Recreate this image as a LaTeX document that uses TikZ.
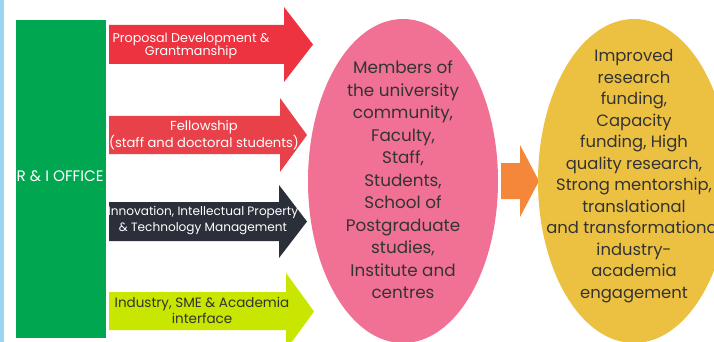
\documentclass[tikz,border=0pt]{standalone}
\usepackage{fontspec}
\setmainfont{Poppins}
\definecolor{cblue}{HTML}{9DD4F0}
\definecolor{cgreen}{HTML}{00A650}
\definecolor{cred}{HTML}{EE3340}
\definecolor{cred2}{HTML}{E8414A}
\definecolor{cdark}{HTML}{2B2F3A}
\definecolor{clime}{HTML}{C8E600}
\definecolor{cpink}{HTML}{F07193}
\definecolor{corange}{HTML}{F4873A}
\definecolor{cgold}{HTML}{ECC142}
\definecolor{ctext}{HTML}{333333}
\tikzset{
  arrowtext/.style={align=center, inner sep=0pt},
  elltext/.style={align=center, text=ctext, inner sep=0pt},
}
\newcommand{\fatarrow}[8]{% color, x0, xh, tip, shaft top, shaft bottom, head top, head bottom
  \fill[#1] (#2,#5) -- (#3,#5) -- (#3,#7) -- (#4,{(#7+#8)/2}) -- (#3,#8) -- (#3,#6) -- (#2,#6) -- cycle;}
\begin{document}
\begin{tikzpicture}[x=1pt,y=-1pt]
\useasboundingbox (0,0) rectangle (714,342);
\clip (0,0) rectangle (714,342);
\fill[white] (0,0) rectangle (714,342);
\fill[cblue] (0,0) rectangle (3.5,342);
\fill[cgreen] (16,20) rectangle (106,338);
\node[anchor=west, text=white, font=\fontsize{15.2}{17}\selectfont, inner sep=0pt] (office) at (16.5,176) {R \& I OFFICE};
% arrows
\fatarrow{cred}{109}{284}{313}{25}{64}{7}{82}
\fatarrow{cred2}{109}{280}{307}{116}{154}{98}{172}
\fatarrow{cdark}{109}{279}{307}{202}{241}{185}{258}
\fatarrow{clime}{109}{286}{314}{292}{330}{273}{350}
\node[arrowtext, text=white, font=\fontsize{12.7}{13.5}\selectfont] (a1) at (191,46) {Proposal Development \&\\Grantmanship};
\node[arrowtext, text=white, font=\fontsize{13.1}{17}\selectfont] (a2) at (204,135.5) {Fellowship\\(staff and doctoral students)};
\node[arrowtext, text=white, font=\fontsize{12.1}{16}\selectfont] (a3) at (203,221) {Innovation, Intellectual Property\\\& Technology Management};
\node[arrowtext, text=ctext, font=\fontsize{13.5}{16}\selectfont] (a4) at (202,310) {Industry, SME \& Academia\\interface};
% ellipses
\fill[cpink] (403,181) ellipse [x radius=95, y radius=162];
\fatarrow{corange}{501}{520}{539}{163}{199}{145}{217}
\fill[cgold] (634,181) ellipse [x radius=96, y radius=162];
\node[elltext, font=\fontsize{16.8}{22.5}\selectfont] (members) at (403,180) {Members of\\the university\\community,\\Faculty,\\Staff,\\Students,\\School of\\Postgraduate\\studies,\\Institute and\\centres};
\node[elltext, font=\fontsize{16.4}{21.5}\selectfont] (outcome) at (634,176) {Improved\\research\\funding,\\Capacity\\funding, High\\quality research,\\Strong mentorship,\\translational\\and transformational\\industry-\\academia\\engagement};
\end{tikzpicture}
\end{document}
